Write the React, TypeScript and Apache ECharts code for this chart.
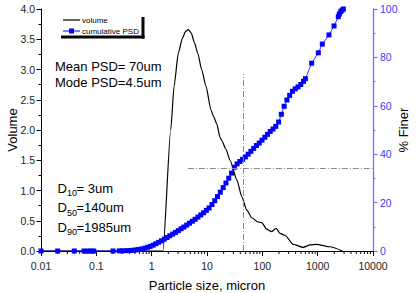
import React, { useEffect, useRef } from "react";
import * as echarts from "echarts";

// Volume distribution (particle size in micron, volume %)
const VOLUME_SIZES = [0.01, 1.6, 2.21, 2.54, 3.03, 3.6, 4.1, 4.6, 5.2, 5.9, 6.8, 8.0, 9.6, 11.8, 13.2, 15.0, 17.2, 18.4, 22, 26.1, 34.8, 42.4, 52.2, 64.3, 83.6, 97.5, 120, 148, 177, 209, 257, 363, 550, 727, 955, 1660, 2800];
const VOLUME_VALUES = [0, 0, 2.0, 2.72, 3.27, 3.52, 3.63, 3.66, 3.6, 3.45, 3.27, 3.0, 2.72, 2.33, 2.22, 2.1, 1.88, 1.83, 1.68, 1.5, 1.17, 0.9, 0.68, 0.55, 0.48, 0.47, 0.36, 0.32, 0.375, 0.29, 0.26, 0.11, 0.06, 0.1, 0.11, 0.07, 0];

// Cumulative PSD (% finer)
const CUM_SIZES = [0.01, 0.02, 0.04, 0.06, 0.07, 0.08, 0.09, 0.2, 0.26, 0.3, 0.36, 0.41, 0.46, 0.52, 0.58, 0.66, 0.75, 0.84, 0.94, 1.06, 1.19, 1.34, 1.5, 1.69, 1.9, 2.13, 2.4, 2.7, 3.03, 3.4, 3.83, 4.3, 4.83, 5.43, 6.1, 6.86, 7.71, 8.67, 9.75, 10.9, 12.3, 13.8, 15.5, 17.4, 19.6, 22, 24.7, 27.8, 31.2, 35, 39.3, 44, 49.4, 55.4, 62.2, 69.8, 78.3, 87.9, 98.6, 111, 124, 139, 156, 175, 197, 221, 248, 278, 312, 350, 393, 441, 495, 555, 600, 780, 1030, 1214, 1600, 1977, 2360, 2460, 2610, 2750, 2910];
const CUM_VALUES = [0, 0, 0, 0, 0, 0, 0, 0, 0.05, 0.1, 0.15, 0.22, 0.3, 0.45, 0.6, 0.85, 1.15, 1.5, 1.9, 2.4, 3.0, 3.6, 4.2, 4.9, 5.6, 6.3, 7.0, 7.7, 8.4, 9.2, 9.9, 10.7, 11.5, 12.3, 13.1, 14.0, 14.9, 15.8, 16.8, 17.8, 19.2, 20.8, 22.5, 24.3, 26.2, 28.1, 30.1, 32.2, 34.6, 36.0, 37.0, 37.9, 38.9, 40.0, 41.2, 42.4, 43.6, 44.6, 45.8, 47.0, 48.2, 49.4, 50.4, 51.5, 53.3, 56.5, 59.8, 62.4, 64.3, 66.0, 67.0, 67.8, 68.8, 70.1, 71.2, 77.6, 81.9, 85.5, 89.3, 93.0, 96.8, 97.9, 98.9, 99.5, 100];

// Guide lines: horizontal at the 34.2 % level, vertical at 45 micron
const GUIDE_H = { from: 4.5, to: 10000, level: 34.2 };
const GUIDE_V = { size: 45, top: 73 };

const X_TICK_LABELS = ["0.01", "0.1", "1", "10", "100", "1000", "10000"];
const X_MINOR_TICKS = [
  0.02, 0.03, 0.04, 0.05, 0.06, 0.07, 0.08, 0.09,
  0.2, 0.3, 0.4, 0.5, 0.6, 0.7, 0.8, 0.9,
  2, 3, 4, 5, 6, 7, 8, 9,
  20, 30, 40, 50, 60, 70, 80, 90,
  200, 300, 400, 500, 600, 700, 800, 900,
  2000, 3000, 4000, 5000, 6000, 7000, 8000, 9000,
];

const FONT = "'Liberation Sans', Arial, sans-serif";
const BLUE = "#0000ff";
const AXIS_BLUE = "#7272ff";
const LABEL_BLUE = "#3a3aff";

export default function App() {
  const ref = useRef<HTMLDivElement>(null);

  useEffect(() => {
    if (!ref.current) return;
    const chart = echarts.init(ref.current, undefined, { renderer: "svg" });

    const volumeData = VOLUME_SIZES.map((s, i) => [s, VOLUME_VALUES[i]]);
    const cumData = CUM_SIZES.map((s, i) => [s, CUM_VALUES[i]]);
    const minorData = X_MINOR_TICKS.map((v) => [v, 0]);

    const subText = (x: number, y: number, sub: string, rest: string) => [
      { type: "text", x, y, style: { text: "D", fontSize: 13, fontFamily: FONT, fill: "#000", verticalAlign: "middle" } },
      { type: "text", x: x + 9.5, y: y + 5, style: { text: sub, fontSize: 9, fontFamily: FONT, fill: "#000", verticalAlign: "middle" } },
      { type: "text", x: x + 19, y, style: { text: rest, fontSize: 13, fontFamily: FONT, fill: "#000", verticalAlign: "middle" } },
    ];

    const legendText = (y: number, text: string) => ({
      type: "text",
      x: 82,
      y,
      style: { text, fontSize: 8, fontFamily: FONT, fill: "#000", verticalAlign: "middle" },
    });

    chart.setOption({
      animation: false,
      backgroundColor: "#ffffff",
      textStyle: { fontFamily: FONT },
      grid: { left: 41, right: 43, top: 9, bottom: 42, containLabel: false, outerBoundsMode: "none" },
      xAxis: {
        type: "log",
        logBase: 10,
        min: 0.01,
        max: 10000,
        splitNumber: 6,
        name: "Particle size, micron",
        nameLocation: "middle",
        nameGap: 28,
        nameTextStyle: { fontSize: 13, color: "#000", fontFamily: FONT },
        axisLine: { lineStyle: { color: "#000", width: 1 } },
        axisTick: { show: true, length: 5, lineStyle: { color: "#000" } },
        minorTick: { show: false },
        splitLine: { show: false },
        axisLabel: {
          fontSize: 10.5,
          color: "#222",
          margin: 9,
          formatter: (v: number) => X_TICK_LABELS[Math.round(Math.log10(v)) + 2],
        },
      },
      yAxis: [
        {
          type: "value",
          min: 0,
          max: 4,
          interval: 0.5,
          name: "Volume",
          nameLocation: "middle",
          nameGap: 22,
          nameMoveOverlap: false,
          nameTextStyle: { fontSize: 13, color: "#000", fontFamily: FONT },
          axisLine: { show: true, lineStyle: { color: "#000", width: 1 } },
          axisTick: { show: true, length: 4.5, lineStyle: { color: "#000" } },
          minorTick: { show: true, splitNumber: 2, length: 2.5, lineStyle: { color: "#000" } },
          splitLine: { show: false },
          axisLabel: { fontSize: 10.5, color: "#222", margin: 6, formatter: (v: number) => v.toFixed(1) },
        },
        {
          type: "value",
          position: "right",
          min: 0,
          max: 100,
          interval: 20,
          name: "% Finer",
          nameLocation: "middle",
          nameGap: 24,
          nameRotate: 90,
          nameMoveOverlap: false,
          nameTextStyle: { fontSize: 13, color: "#000", fontFamily: FONT },
          axisLine: { show: true, lineStyle: { color: AXIS_BLUE, width: 1.3 } },
          axisTick: { show: true, length: 4.5, lineStyle: { color: AXIS_BLUE, width: 1.2 } },
          minorTick: { show: true, splitNumber: 2, length: 2.5, lineStyle: { color: AXIS_BLUE, width: 1.2 } },
          splitLine: { show: false },
          axisLabel: { fontSize: 10.5, color: LABEL_BLUE, margin: 7 },
        },
      ],
      series: [
        {
          name: "x minor ticks",
          type: "custom",
          xAxisIndex: 0,
          yAxisIndex: 0,
          silent: true,
          clip: false,
          data: minorData,
          renderItem: (_params: any, api: any) => {
            const p = api.coord([api.value(0), api.value(1)]);
            return {
              type: "line",
              shape: { x1: p[0], y1: p[1], x2: p[0], y2: p[1] + 3 },
              style: { stroke: "#000", lineWidth: 1 },
            };
          },
        },
        {
          name: "volume",
          type: "line",
          yAxisIndex: 0,
          data: volumeData,
          symbol: "none",
          smooth: 0.2,
          smoothMonotone: "x",
          lineStyle: { color: "#000", width: 1.2 },
          itemStyle: { color: "#000" },
          z: 3,
        },
        {
          name: "cumulative PSD",
          type: "line",
          yAxisIndex: 1,
          data: cumData,
          symbol: "rect",
          symbolSize: 5,
          lineStyle: { color: BLUE, width: 0.8 },
          itemStyle: { color: BLUE },
          z: 4,
          markLine: {
            silent: true,
            symbol: "none",
            label: { show: false },
            lineStyle: { color: "#8c8c8c", width: 1, type: [6, 2, 1, 2] },
            data: [
              [{ coord: [GUIDE_H.from, GUIDE_H.level] }, { coord: [GUIDE_H.to, GUIDE_H.level] }],
              [{ coord: [GUIDE_V.size, 0] }, { coord: [GUIDE_V.size, GUIDE_V.top] }],
            ],
          },
        },
      ],
      graphic: [
        // legend: keys, labels and the box shadow
        { type: "line", shape: { x1: 63, y1: 20, x2: 80, y2: 20 }, style: { stroke: "#000", lineWidth: 1.2 } },
        legendText(20, "volume"),
        { type: "line", shape: { x1: 63, y1: 31, x2: 80, y2: 31 }, style: { stroke: BLUE, lineWidth: 1 } },
        { type: "rect", shape: { x: 69, y: 28.5, width: 5, height: 5 }, style: { fill: BLUE } },
        legendText(31, "cumulative PSD"),
        { type: "line", shape: { x1: 61, y1: 37, x2: 144.5, y2: 37 }, style: { stroke: "#000", lineWidth: 3 } },
        { type: "line", shape: { x1: 143, y1: 17, x2: 143, y2: 38.5 }, style: { stroke: "#000", lineWidth: 3 } },
        // summary statistics
        { type: "text", x: 55, y: 66, style: { text: "Mean PSD= 70um", fontSize: 13, fontFamily: FONT, fill: "#000", verticalAlign: "middle" } },
        { type: "text", x: 55, y: 82, style: { text: "Mode PSD=4.5um", fontSize: 13, fontFamily: FONT, fill: "#000", verticalAlign: "middle" } },
        ...subText(57.5, 188, "10", "= 3um"),
        ...subText(57.5, 207.5, "50", "=140um"),
        ...subText(57.5, 227, "90", "=1985um"),
      ],
    });

    return () => chart.dispose();
  }, []);

  return <div ref={ref} style={{ position: "absolute", left: 0, top: 0, width: 416, height: 293 }} />;
}
